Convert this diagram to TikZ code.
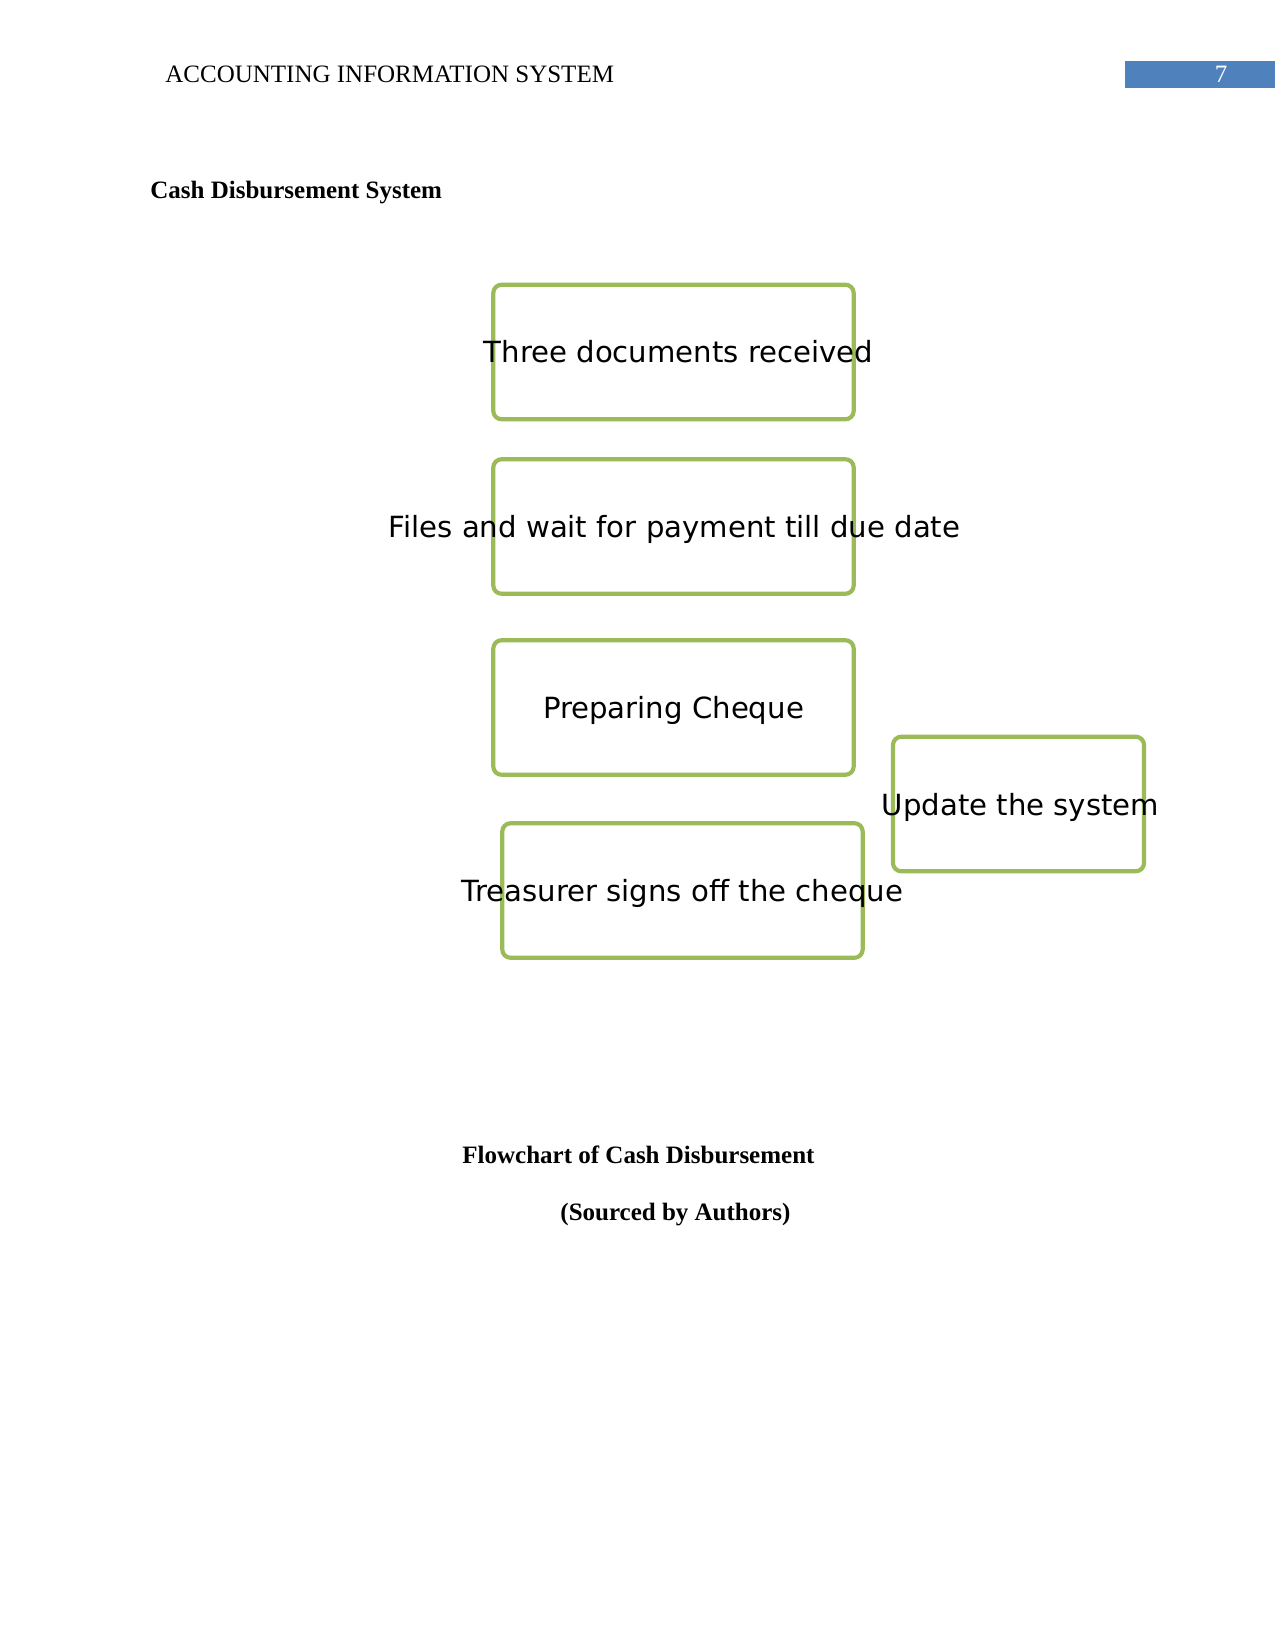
\documentclass[tikz,border=0pt]{standalone}
\usepackage{fontspec}
\setmainfont{Liberation Serif}
\newfontfamily\boxfont{DejaVu Sans}
\usetikzlibrary{calc}
\definecolor{boxgreen}{RGB}{155,187,89}
\definecolor{hdrblue}{RGB}{79,129,189}
\begin{document}
\begin{tikzpicture}[x=0.48pt,y=-0.48pt,
  stepbox/.style={draw=boxgreen, line width=2pt, rounded corners=4pt,
    minimum width=173pt, minimum height=64.6pt, inner sep=0pt},
  boxtext/.style={font=\boxfont\fontsize{14}{16}\selectfont, inner sep=0pt, anchor=base},
  serif/.style={font=\fontsize{12}{14}\selectfont, inner sep=0pt, anchor=base west},
  serifbold/.style={font=\fontsize{12}{14}\selectfont\bfseries, inner sep=0pt, anchor=base west}]
\useasboundingbox (0,0) rectangle (1275,1650);
\fill[white] (0,0) rectangle (1275,1650);
% header
\node[serif] (hdr) at (165,83) {ACCOUNTING INFORMATION SYSTEM};
\node[fill=hdrblue, minimum width=72pt, minimum height=13pt, inner sep=0pt] (pgbox) at (1200,74.5) {};
\node[serif, anchor=base, text=white] (pgnum) at (1221,83) {7};
% title
\node[serifbold] (title) at (150,199) {Cash Disbursement System};
% boxes
\node[stepbox] (b1) at (673.5,352) {};
\node[stepbox] (b2) at (673.5,526.5) {};
\node[stepbox] (b3) at (673.5,707.5) {};
\node[stepbox, minimum width=120.5pt] (b4) at (1018.5,804) {};
\node[stepbox] (b5) at (682.5,890.5) {};
\node[boxtext] (t1) at ($(b1.center)+(5,11)$) {Three documents received};
\node[boxtext] (t2) at ($(b2.center)+(1,11)$) {Files and wait for payment till due date};
\node[boxtext] (t3) at ($(b3.center)+(0,11)$) {Preparing Cheque};
\node[boxtext] (t4) at ($(b4.center)+(2,11)$) {Update the system};
\node[boxtext] (t5) at ($(b5.center)+(0,11)$) {Treasurer signs off the cheque};
% captions
\node[serifbold] (cap1) at (462,1163) {Flowchart of Cash Disbursement};
\node[serifbold] (cap2) at (560,1220) {(Sourced by Authors)};
\end{tikzpicture}
\end{document}
